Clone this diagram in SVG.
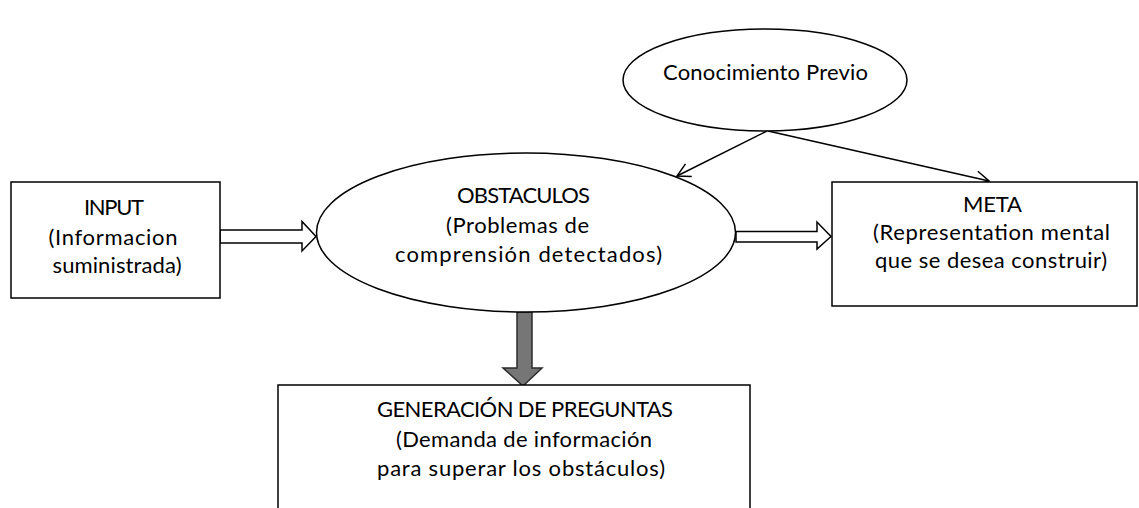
<svg xmlns="http://www.w3.org/2000/svg" width="1139" height="508" viewBox="0 0 1139 508">
  <defs>
    <style>
      .shape { fill: #ffffff; stroke: #000000; stroke-width: 1.5; }
      .lbl { font-family: Lato, "Open Sans", sans-serif; font-size: 22px; fill: #000000; text-anchor: middle; }
      .line { fill: none; stroke: #000000; stroke-width: 1.5; }
      .hollow { fill: #ffffff; stroke: #000000; stroke-width: 1.5; stroke-linejoin: miter; }
      .gray { fill: #767676; stroke: #2b2b2b; stroke-width: 1.5; }
    </style>
    <marker id="open" markerWidth="16" markerHeight="16" refX="14" refY="8" orient="auto" markerUnits="userSpaceOnUse">
      <path d="M1,1 L14,8 L1,15" fill="none" stroke="#000000" stroke-width="1.5"/>
    </marker>
  </defs>
  <rect width="1139" height="508" fill="#ffffff"/>

  <g id="connectors">
    <line class="line" x1="767" y1="131" x2="677" y2="176" marker-end="url(#open)"/>
    <line class="line" x1="768" y1="131" x2="989" y2="181" marker-end="url(#open)"/>
    <path class="hollow" d="M220,230 L302,230 L302,221.5 L316,236.5 L302,251 L302,243 L220,243 Z"/>
    <path class="hollow" d="M736,231.5 L817,231.5 L817,222 L831,236.5 L817,249 L817,242 L736,242 Z"/>
    <path class="gray" d="M517,312 L532,312 L532,368 L542,368 L523,386 L503,368 L517,368 Z"/>
  </g>

  <g id="node-input">
    <rect class="shape" x="11" y="182" width="209" height="116"/>
    <text class="lbl" x="114" y="215" textLength="60" lengthAdjust="spacing">INPUT</text>
    <text class="lbl" x="113" y="245" textLength="129" lengthAdjust="spacing">(Informacion</text>
    <text class="lbl" x="117" y="273" textLength="129" lengthAdjust="spacing">suministrada)</text>
  </g>

  <g id="node-conocimiento">
    <ellipse class="shape" cx="765" cy="80" rx="142" ry="51"/>
    <text class="lbl" x="765.5" y="80" textLength="205" lengthAdjust="spacing">Conocimiento Previo</text>
  </g>

  <g id="node-obstaculos">
    <ellipse class="shape" cx="526" cy="232.5" rx="209.5" ry="79.5"/>
    <text class="lbl" x="523.5" y="203" textLength="133" lengthAdjust="spacing">OBSTACULOS</text>
    <text class="lbl" x="517.5" y="233" textLength="143" lengthAdjust="spacing">(Problemas de</text>
    <text class="lbl" x="528.5" y="262" textLength="267" lengthAdjust="spacing">comprensión detectados)</text>
  </g>

  <g id="node-meta">
    <rect class="shape" x="832" y="182" width="305" height="124"/>
    <text class="lbl" x="992.5" y="212" textLength="59" lengthAdjust="spacing">META</text>
    <text class="lbl" x="991.5" y="240" textLength="237" lengthAdjust="spacing">(Representation mental</text>
    <text class="lbl" x="991" y="268" textLength="232" lengthAdjust="spacing">que se desea construir)</text>
  </g>

  <g id="node-generacion">
    <rect class="shape" x="278" y="385" width="472" height="140"/>
    <text class="lbl" x="525" y="417" textLength="296" lengthAdjust="spacing">GENERACIÓN DE PREGUNTAS</text>
    <text class="lbl" x="524" y="447" textLength="256" lengthAdjust="spacing">(Demanda de información</text>
    <text class="lbl" x="521" y="476" textLength="288" lengthAdjust="spacing">para superar los obstáculos)</text>
  </g>
</svg>
